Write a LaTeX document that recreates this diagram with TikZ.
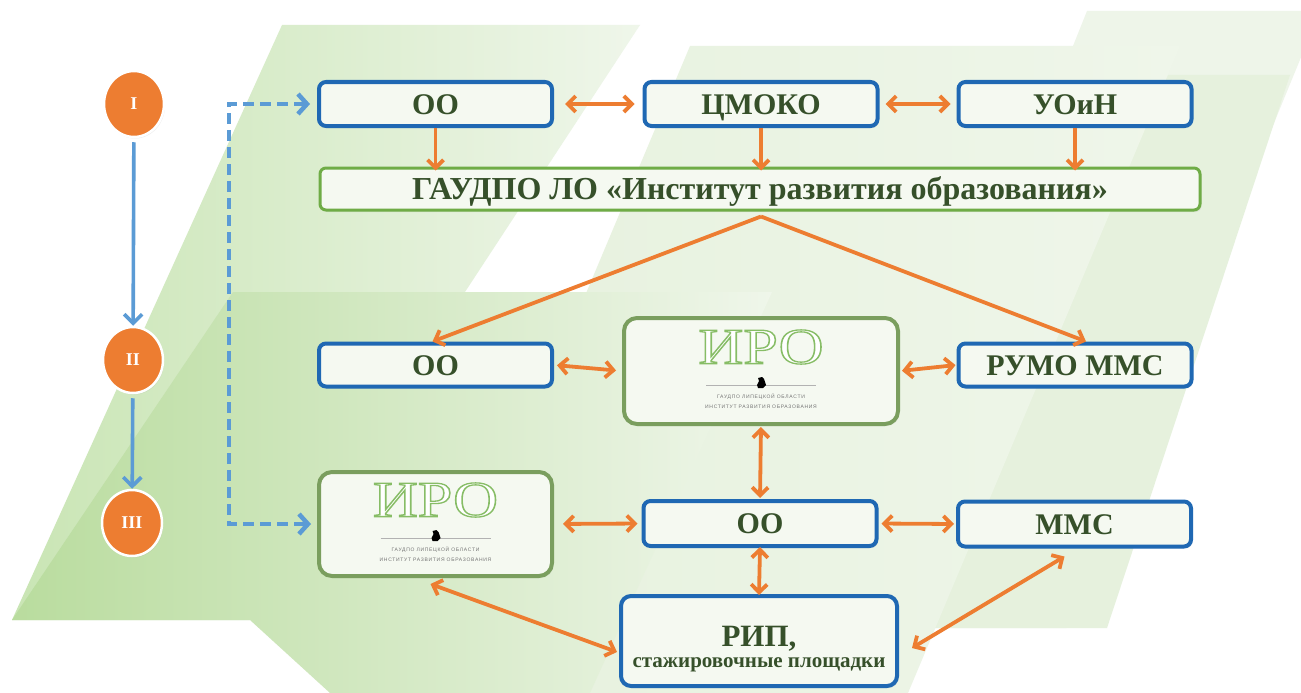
\documentclass[tikz,border=0pt]{standalone}
\usepackage{fontspec}
\setmainfont{Liberation Serif}
\newfontfamily\tinyfont[LetterSpace=14]{Liberation Sans}
\usetikzlibrary{arrows.meta,calc,shadows,shapes.geometric}
\definecolor{corange}{HTML}{ED7D31}
\definecolor{cblue}{HTML}{1F68B3}
\definecolor{cbluearr}{HTML}{5B9BD5}
\definecolor{cgreenbox}{HTML}{6FAC46}
\definecolor{cirobox}{HTML}{7A9E5E}
\definecolor{ctext}{HTML}{36502A}
\definecolor{cfill}{HTML}{F5F9F1}
\definecolor{gA}{HTML}{B9DC9E}
\definecolor{gA2}{HTML}{C9E5B4}
\definecolor{gB}{HTML}{EFF6EA}
\definecolor{gC}{HTML}{E6F1DD}
\definecolor{gD}{HTML}{EEF5E9}
\newcommand\mylabfont{\bfseries\fontsize{30}{32}\selectfont}
\newcommand\outlinetext[1]{{\color{white}\special{pdf:literal direct 2 Tr 1.3 w 0.53 0.74 0.40 RG}#1\special{pdf:literal direct 0 Tr}}}
\tikzset{
  bbox/.style={draw=cblue, line width=4pt, rounded corners=7pt, fill=cfill,
    minimum width=233pt, minimum height=44pt, inner sep=0pt, text=ctext, font=\mylabfont,
    text height=20pt, text depth=0pt,
    drop shadow={opacity=0.12, shadow xshift=1.5pt, shadow yshift=-2pt}},
  gbox/.style={draw=cgreenbox, line width=3pt, rounded corners=6pt, fill=cfill,
    minimum width=880pt, minimum height=42pt, inner sep=0pt, text=ctext,
    font=\bfseries\fontsize{32}{34}\selectfont, text height=21pt, text depth=0pt,
    drop shadow={opacity=0.12, shadow xshift=1.5pt, shadow yshift=-2pt}},
  ibox/.style={draw=cirobox, line width=4pt, rounded corners=13pt, fill=cfill,
    inner sep=0pt, drop shadow={opacity=0.12, shadow xshift=1.5pt, shadow yshift=-2pt}},
  circ/.style={ellipse, fill=corange, draw=white, line width=2.5pt, minimum width=60pt,
    minimum height=66pt, inner sep=0pt, text=white, font=\bfseries\fontsize{18}{18}\selectfont,
    drop shadow={opacity=0.15, shadow xshift=1pt, shadow yshift=-1.5pt}},
  oarr/.style={draw=corange, line width=3.8pt,
    arrows={Straight Barb[length=8pt,width=16pt]-Straight Barb[length=8pt,width=16pt]}},
  odown/.style={draw=corange, line width=3.8pt, arrows={-Straight Barb[length=8pt,width=16pt]}},
  tarr/.style={draw=cbluearr, line width=3.6pt, arrows={-Straight Barb[length=9pt,width=18pt]}},
  darr/.style={draw=cbluearr, line width=4.5pt, dash pattern=on 11pt off 6pt,
    arrows={Straight Barb[length=9pt,width=20pt]-Straight Barb[length=9pt,width=20pt]}},
  tinytxt/.style={font=\tinyfont\fontsize{5}{5}\selectfont, text=black!55, inner sep=0pt},
  irologo/.pic={
    \node[inner sep=0pt, font=\fontsize{51}{51}\selectfont] (-t) at (0,0)
      {\scalebox{1.22}[1]{\outlinetext{ИРО}}};
    \draw[black!30, line width=1pt] (-55,38) -- (55,38);
    \fill[black] (-3,31) -- (1,30) -- (3,32) -- (4,35) -- (5,38) -- (2,41) -- (-3,41) -- (-4,38) -- (-2,34) -- cycle;
    \node[tinytxt] (-a) at (0,50) {ГАУДПО ЛИПЕЦКОЙ ОБЛАСТИ};
    \node[tinytxt] (-b) at (0,60) {ИНСТИТУТ РАЗВИТИЯ ОБРАЗОВАНИЯ};
  }
}
\begin{document}
\begin{tikzpicture}[x=1pt,y=-1pt]
\useasboundingbox (0,0) rectangle (1301,693);
\fill[white] (0,0) rectangle (1301,693);
% background shapes
\fill[gD] (1087,11) -- (1320,11) -- (1143,442) -- (1066,628) -- (840,628) -- cycle;
\fill[gC] (1000,75) -- (1290,75) -- (1107,628) -- (790,628) -- cycle;
\shade[left color=gC, right color=gB] (690,46) -- (1180,46) -- (908,693) -- (418,693) -- cycle;
\shade[left color=gA2, right color=gB] (282,25) -- (640,25) -- (250,620) -- (12,620) -- cycle;
\shade[left color=gA, right color=gB] (233,292) -- (772,292) -- (590,693) -- (330,693) -- (250,620) -- (12,620) -- cycle;

% timeline
\node[circ] (c1) at (134,104) {I};
\node[circ] (c2) at (133,360) {II};
\node[circ] (c3) at (132,523) {III};
\draw[tarr, shorten <=4pt] (c1) -- (c2);
\draw[tarr, shorten <=4pt] (c2) -- (c3);

% boxes
\node[bbox] (oo1) at (435.5,104) {ОО};
\node[bbox] (cmoko) at (761,104) {ЦМОКО};
\node[bbox] (uoin) at (1075,104) {УОиН};
\node[gbox] (gau) at (760,189) {ГАУДПО ЛО «Институт развития образования»};
\node[bbox, minimum height=43pt] (oo2) at (435.5,365) {ОО};
\node[ibox, minimum width=274pt, minimum height=106pt] (iro1) at (761,371) {};
\node[bbox, minimum height=43pt] (rumo) at (1075,365) {РУМО ММС};
\node[ibox, minimum width=233pt, minimum height=104pt] (iro2) at (435.5,524) {};
\node[bbox, minimum height=45pt] (oo3) at (760,523.5) {ОО};
\node[bbox, minimum height=45pt] (mmc) at (1074.5,524) {ММС};
\node[bbox, minimum width=276pt, minimum height=90pt, rounded corners=10pt] (rip) at (759,641) {};
\node[text=ctext, font=\bfseries\fontsize{31}{31}\selectfont, inner sep=0pt, text height=21pt, text depth=0pt] (riptitle) at (759,636) {РИП,};
\node[text=ctext, font=\bfseries\fontsize{21}{21}\selectfont, inner sep=0pt, text height=10pt, text depth=0pt] (ripsub) at (759,662) {стажировочные площадки};

\pic (logoA) at ($(iro1.north)+(0,31)$) {irologo};
\pic (logoB) at ($(iro2.north)+(0,30)$) {irologo};

% dashed
\coordinate (dtop) at (229,104);
\coordinate (dbot) at (229,524);
\draw[darr, shorten <=7pt, shorten >=6pt] (oo1.west) -- (dtop) -- (dbot) -- (iro2.west);

% orange connectors
\draw[oarr, shorten <=11pt, shorten >=8pt] (oo1.east) -- (cmoko.west);
\draw[oarr, shorten <=6pt, shorten >=6pt] (cmoko.east) -- (uoin.west);
\draw[odown, shorten >=-4pt] (oo1.south) -- (oo1.south |- gau.north);
\draw[odown, shorten >=-4pt] (cmoko.south) -- (cmoko.south |- gau.north);
\draw[odown, shorten >=-4pt] (uoin.south) -- (uoin.south |- gau.north);
\coordinate (apex) at ($(gau.south)+(1,5)$);
\draw[odown] (apex) -- ($(oo2.north)+(-3,0)$);
\draw[odown] (apex) -- ($(rumo.north)+(11,0)$);
\draw[oarr, shorten <=3pt, shorten >=6pt] (oo2.east) -- (iro1.west);
\draw[oarr, shorten <=2pt, shorten >=1pt] (iro1.east) -- (rumo.west);
\draw[oarr, shorten <=1pt, shorten >=1pt] (iro1.south) -- (oo3.north);
\draw[oarr, shorten <=9pt, shorten >=4pt] (iro2.east) -- (oo3.west);
\draw[oarr, shorten <=3pt, shorten >=2pt] (oo3.east) -- (mmc.west);
\draw[oarr, shorten <=-1pt, shorten >=-1pt] (oo3.south) -- (rip.north);
\draw[oarr] ($(iro2.south)+(-5,6)$) -- ($(rip.west)+(-2,11)$);
\draw[oarr] ($(rip.east)+(13,7)$) -- ($(mmc.south)+(-10,8)$);
\end{tikzpicture}
\end{document}
